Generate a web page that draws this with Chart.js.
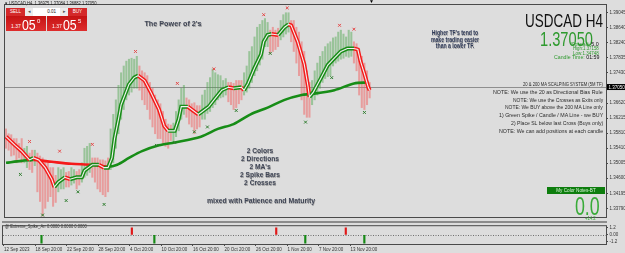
<!DOCTYPE html>
<html>
<head>
<meta charset="utf-8">
<title>USDCAD H4</title>
<script src="https://cdn.jsdelivr.net/npm/chart.js@4.4.1/dist/chart.umd.min.js"></script>
<style>
  html, body { margin: 0; padding: 0; background: #dddddd; }
  #wrap { position: relative; width: 625px; height: 253px; overflow: hidden; background: #dddddd;
          font-family: "Liberation Sans", Arial, sans-serif; }
  canvas { position: absolute; left: 0; }
  #main { top: 0; }
  #sub { top: 222px; }
  #sep { position: absolute; left: 2px; top: 221px; width: 605px; height: 2px; background: #8c8c8c; }
  .t { position: absolute; white-space: nowrap; line-height: 1; }
  .lft { transform-origin: left center; }
  .rgt { transform-origin: right center; text-align: right; }
  .mid { text-align: center; }
  .slogan { color: #3f4555; font-weight: bold; text-shadow: 0.6px 0.6px 0 rgba(0,0,0,0.3); }
  .note { color: #2b2b2b; font-size: 5.5px; }
  .box { position: absolute; height: 8px; top: 8px; font-size: 4.5px; line-height: 8px; text-align: center; }
  .red { background: #d42a2a; color: #fff; }
  .quote { position: absolute; top: 16px; width: 40px; height: 15px; background: linear-gradient(#c51313, #de2d2d); color: #fff; }
  .quote span { position: absolute; line-height: 1; white-space: nowrap; }
  .grn { color: #2e9a2e; }
  .blk { color: #111; }
</style>
</head>
<body>
<div id="wrap">
  <canvas id="main" width="625" height="222"></canvas>
  <canvas id="sub" width="625" height="31"></canvas>
  <div id="sep"></div>

  <!-- chart header -->
  <div class="t lft" data-w="92" style="left:5px;top:2px;font-size:4.5px;color:#222;">▾ USDCAD,H4&nbsp; 1.36975 1.37084 1.36882 1.37050</div>
  <div class="t" style="left:369px;top:-1px;font-size:5px;color:#000;">▼</div>

  <!-- one click trading panel -->
  <div class="box red" style="left:6px;width:19px;">SELL</div>
  <div class="box" style="left:25px;width:8px;background:#ececec;color:#555;">◂</div>
  <div class="box" style="left:33px;width:27px;background:#fff;color:#222;text-align:right;"><span style="padding-right:4px;">0.01</span></div>
  <div class="box" style="left:60px;width:8px;background:#ececec;color:#555;">▸</div>
  <div class="box red" style="left:68px;width:19px;">BUY</div>
  <div class="quote" style="left:6px;">
    <span style="left:5px;top:8px;font-size:5px;">1.37</span>
    <span class="t lft" data-w="14" style="left:16px;top:1px;font-size:15px;">05</span>
    <span style="left:31px;top:1.5px;font-size:6px;">0</span>
  </div>
  <div class="quote" style="left:47px;">
    <span style="left:5px;top:8px;font-size:5px;">1.37</span>
    <span class="t lft" data-w="14" style="left:16px;top:1px;font-size:15px;">05</span>
    <span style="left:31px;top:1.5px;font-size:6px;">5</span>
  </div>

  <!-- slogans -->
  <div class="t mid slogan" data-w="57" data-c="173" style="top:20px;font-size:8px;">The Power of 2's</div>
  <div class="t mid slogan" data-w="48" data-c="455" style="top:30px;font-size:6.5px;line-height:6.5px;color:#2f3a58;">Higher TF's tend to<br>make trading easier<br>than a lower TF.</div>
  <div class="t mid slogan" data-w="40" data-c="260" style="top:147px;font-size:8px;line-height:8px;">2 Colors<br>2 Directions<br>2 MA's<br>2 Spike Bars<br>2 Crosses</div>
  <div class="t mid slogan" data-w="108" data-c="261" style="top:197px;font-size:8px;">mixed with Patience and Maturity</div>

  <!-- symbol info -->
  <div class="t rgt" data-w="78" style="right:22px;top:12px;font-size:18.5px;color:#111;">USDCAD H4</div>
  <div class="t rgt grn" data-w="53" style="right:32px;top:28px;font-size:21px;color:#2e9a2e;">1.37050</div>
  <div class="t rgt" data-w="28" style="right:26px;top:41.5px;font-size:5px;"><span class="grn">Spread: </span><span class="blk">5.0</span></div>
  <div class="t rgt grn" data-w="26" style="right:26px;top:46px;font-size:5px;">High:1.37158</div>
  <div class="t rgt grn" data-w="26" style="right:26px;top:50.5px;font-size:5px;">Low:1.34748</div>
  <div class="t rgt" data-w="45" style="right:26px;top:55px;font-size:5px;"><span class="grn">Candle Time: </span><span class="blk">01:59</span></div>

  <!-- system notes -->
  <div class="t rgt note" data-w="80" style="right:22px;top:82px;">20 &amp; 200 MA SCALPING SYSTEM (5M TF)</div>
  <div class="t rgt note" data-w="110" style="right:22px;top:90px;">NOTE: We use the 20 as Directional Bias Rule</div>
  <div class="t rgt note" data-w="90" style="right:22px;top:98px;">NOTE: We use the Crosses as Exits only</div>
  <div class="t rgt note" data-w="98" style="right:22px;top:105px;">NOTE: We BUY above the 200 MA Line only</div>
  <div class="t rgt note" data-w="104" style="right:22px;top:113px;">1) Green Spike / Candle / MA Line - we BUY</div>
  <div class="t rgt note" data-w="92" style="right:22px;top:121px;">2) Place SL below last Cross (Buys only)</div>
  <div class="t rgt note" data-w="104" style="right:22px;top:129px;">NOTE: We can add positions at each candle</div>

  <div style="position:absolute;left:547px;top:187px;width:58px;height:6.5px;background:#0d7d0d;"></div>
  <div class="t mid" data-w="40" data-c="576" style="top:188px;font-size:5px;color:#d8f5d8;">My Color Notes-BT</div>
  <div class="t rgt" data-w="25" style="right:25px;top:194px;font-size:25px;color:#38ab38;">0.0</div>
  <div class="t lft" data-w="11" style="left:585px;top:216px;font-size:5px;color:#38ab38;">+14.2</div>

  <!-- indicator window title -->
  <div class="t lft" data-w="82" style="left:5px;top:224.5px;font-size:4.5px;color:#333;">@ Extreme_Spike_Arr 0.0000 0.0000 0.0000</div>
</div>

<script>
// ── Data: x is the H4 candle number counted from 12 Sep 2023 ──
const dateTicks = [0, 24, 48, 72, 96, 120, 144, 168, 192, 216, 240, 264];
const dateLabels = [
  "12 Sep 2023", "18 Sep 20:00", "22 Sep 20:00", "28 Sep 20:00",
  "4 Oct 20:00", "10 Oct 20:00", "16 Oct 20:00", "20 Oct 20:00",
  "26 Oct 20:00", "1 Nov 20:00", "7 Nov 20:00", "13 Nov 20:00",
];
const priceTicks = [
  1.39045, 1.3864, 1.3824, 1.37835, 1.3743, 1.3662, 1.36215,
  1.3581, 1.3541, 1.35005, 1.346, 1.34195, 1.3379,
];
const lastClose = 1.3705;

// spike bars (high / low wicks) every second candle, direction +1 green, -1 red
const spikeBars = [
  0, 2, 4, 6, 8, 10, 12, 14, 16, 18, 20, 22, 24, 26, 28, 30, 32, 34, 36, 38,
  40, 42, 44, 46, 48, 50, 52, 54, 56, 58, 60, 62, 64, 66, 68, 70, 72, 74, 76, 78,
  80, 82, 84, 86, 88, 90, 92, 94, 96, 98, 100, 102, 104, 106, 108, 110, 112, 114, 116, 118,
  120, 122, 124, 126, 128, 130, 132, 134, 136, 138, 140, 142, 144, 146, 148, 150, 152, 154, 156, 158,
  160, 162, 164, 166, 168, 170, 172, 174, 176, 178, 180, 182, 184, 186, 188, 190, 192, 194, 196, 198,
  200, 202, 204, 206, 208, 210, 212, 214, 216, 218, 220, 222, 224, 226, 228, 230, 232, 234, 236, 238,
  240, 242, 244, 246, 248, 250, 252, 254, 256, 258, 260, 262, 264, 266, 268, 270, 272, 274, 276, 278,
];
const spikeHigh = [
  1.35925, 1.35795, 1.35769, 1.35665, 1.35665, 1.35535, 1.35665, 1.35405, 1.35457, 1.35275,
  1.35353, 1.35353, 1.35275, 1.35197, 1.35145, 1.35067, 1.35015, 1.34885, 1.34885, 1.34677,
  1.34885, 1.34833, 1.34885, 1.34755, 1.34781, 1.34885, 1.34833, 1.34781, 1.34833, 1.35015,
  1.35405, 1.35457, 1.35535, 1.35145, 1.35145, 1.35145, 1.35093, 1.35093, 1.35067, 1.35145,
  1.35925, 1.36315, 1.36705, 1.37095, 1.37433, 1.37615, 1.37745, 1.37797, 1.37823, 1.37797,
  1.37875, 1.37615, 1.37485, 1.37433, 1.37355, 1.37173, 1.37017, 1.36835, 1.36705, 1.36601,
  1.36393, 1.36185, 1.36055, 1.36029, 1.36081, 1.36393, 1.36705, 1.37017, 1.37095, 1.36757,
  1.36705, 1.36601, 1.36627, 1.36549, 1.36549, 1.36835, 1.36965, 1.37173, 1.37303, 1.37537,
  1.37433, 1.37381, 1.37355, 1.37225, 1.37277, 1.37173, 1.37173, 1.37147, 1.37225, 1.37225,
  1.37225, 1.37433, 1.37615, 1.38005, 1.38135, 1.38395, 1.38655, 1.38733, 1.38837, 1.38889,
  1.38785, 1.38577, 1.38655, 1.38577, 1.38629, 1.38837, 1.38993, 1.39045, 1.39045, 1.38837,
  1.38837, 1.38655, 1.38525, 1.38265, 1.38005, 1.37485, 1.37173, 1.37225, 1.37485, 1.37693,
  1.37875, 1.38005, 1.38135, 1.38213, 1.38265, 1.38369, 1.38395, 1.38525, 1.38577, 1.38473,
  1.38395, 1.38577, 1.38525, 1.38265, 1.38213, 1.38057, 1.37875, 1.37693, 1.37485, 1.37173,
];
const spikeLow = [
  1.35405, 1.35353, 1.35197, 1.35223, 1.35015, 1.35145, 1.35015, 1.35015, 1.34885, 1.34833,
  1.34755, 1.34937, 1.34235, 1.33975, 1.33585, 1.33793, 1.33975, 1.34105, 1.33845, 1.33949,
  1.34235, 1.34313, 1.34313, 1.34365, 1.34365, 1.34417, 1.34469, 1.34313, 1.34417, 1.34495,
  1.34625, 1.34677, 1.34755, 1.34625, 1.34495, 1.34313, 1.34235, 1.34157, 1.34105, 1.34235,
  1.34833, 1.35015, 1.35405, 1.35795, 1.36185, 1.36445, 1.36705, 1.36835, 1.36913, 1.37017,
  1.37017, 1.36965, 1.36705, 1.36575, 1.36445, 1.36185, 1.35977, 1.35795, 1.35665, 1.35665,
  1.35535, 1.35457, 1.35405, 1.35613, 1.35535, 1.35717, 1.35873, 1.36185, 1.36315, 1.36237,
  1.36055, 1.35977, 1.35795, 1.35925, 1.35977, 1.36185, 1.36185, 1.36341, 1.36393, 1.36497,
  1.36575, 1.36705, 1.36757, 1.36783, 1.36835, 1.36653, 1.36575, 1.36445, 1.36497, 1.36601,
  1.36705, 1.36835, 1.36913, 1.37017, 1.37173, 1.37355, 1.37485, 1.37641, 1.37797, 1.38135,
  1.38135, 1.37953, 1.38005, 1.38057, 1.38135, 1.38317, 1.38395, 1.38473, 1.38525, 1.38265,
  1.38005, 1.37693, 1.37355, 1.36705, 1.36315, 1.36237, 1.36237, 1.36575, 1.36705, 1.36835,
  1.37017, 1.37173, 1.37277, 1.37329, 1.37355, 1.37615, 1.37693, 1.37745, 1.37797, 1.37823,
  1.37875, 1.37849, 1.37875, 1.37693, 1.37485, 1.36835, 1.36497, 1.36445, 1.36575, 1.36757,
];
const spikeDir = [
  -1, -1, -1, -1, -1, -1, -1, 1, 1, -1, -1, 1, -1, -1, -1, -1, -1, -1, -1, -1,
  1, 1, 1, -1, -1, 1, 1, -1, -1, 1, 1, 1, 1, -1, -1, -1, -1, -1, -1, -1,
  1, 1, 1, 1, 1, 1, 1, 1, 1, 1, 1, -1, -1, -1, -1, -1, -1, -1, -1, -1,
  -1, -1, -1, -1, 1, 1, 1, 1, 1, -1, -1, -1, -1, -1, -1, 1, 1, 1, 1, 1,
  1, 1, 1, 1, 1, -1, -1, -1, -1, -1, -1, 1, 1, 1, 1, 1, 1, 1, 1, 1,
  1, -1, -1, -1, -1, 1, 1, 1, 1, -1, -1, -1, -1, -1, -1, -1, -1, 1, 1, 1,
  1, 1, 1, 1, 1, 1, 1, 1, 1, 1, 1, 1, 1, -1, -1, -1, -1, -1, -1, -1,
];

// 20 period MA
const ma20Bars = [
  0, 7, 12, 18, 21, 25, 30, 35, 37, 40, 45, 49, 54, 58, 60, 66, 71, 75, 78, 81,
  83, 86, 88, 94, 98, 101, 106, 111, 117, 121, 124, 129, 132, 134, 139, 142, 147, 149, 155, 159,
  165, 170, 174, 180, 182, 185, 190, 195, 197, 200, 203, 208, 213, 216, 218, 223, 228, 231, 232, 235,
  241, 246, 251, 256, 261, 266, 269, 271, 274, 277, 278,
];
const ma20 = [
  1.35717, 1.35483, 1.35327, 1.35093, 1.35145, 1.35093, 1.34885, 1.34573, 1.34365, 1.34495,
  1.34625, 1.34573, 1.34625, 1.34625, 1.34807, 1.34963, 1.34963, 1.34885, 1.34885, 1.35145,
  1.35665, 1.36185, 1.36575, 1.37121, 1.37303, 1.37355, 1.37225, 1.36887, 1.36445, 1.36003,
  1.35873, 1.35873, 1.36185, 1.36523, 1.36523, 1.36445, 1.36315, 1.36367, 1.36523, 1.36705,
  1.36965, 1.37043, 1.37017, 1.37043, 1.36965, 1.37147, 1.37563, 1.37927, 1.38265, 1.38447,
  1.38473, 1.38447, 1.38655, 1.38733, 1.38707, 1.38265, 1.37667, 1.37043, 1.36783, 1.36913,
  1.37303, 1.37641, 1.37823, 1.38005, 1.38083, 1.38083, 1.38057, 1.37745, 1.37407, 1.37043,
  1.36965,
];

// 200 period MA
const ma200Bars = [0, 12, 21, 35, 50, 66, 78, 85, 94, 104, 117, 129, 149, 162, 174, 187, 200, 213, 226, 233, 251, 266, 277];
const ma200 = [
  1.35015, 1.35067, 1.35093, 1.35041, 1.34989, 1.34963, 1.34911, 1.34963, 1.35145, 1.35327,
  1.35483, 1.35561, 1.35717, 1.35925, 1.36055, 1.36315, 1.36497, 1.36705, 1.36835, 1.36861,
  1.36965, 1.37147, 1.37173,
];

// exit crosses
const topCrossBars = [18, 41, 66, 99, 131, 159, 197, 215, 255, 266];
const topCross = [1.35587, 1.35327, 1.35509, 1.38005, 1.37147, 1.37537, 1.38993, 1.39175, 1.38707, 1.38603];
const lowCrossBars = [11, 28, 46, 55, 75, 115, 129, 144, 154, 176, 202, 229, 249, 274];
const lowCross = [
  1.34703, 1.33611, 1.34001, 1.34235, 1.33897, 1.35483, 1.35561, 1.35847, 1.35977, 1.36419,
  1.37953, 1.36107, 1.37303, 1.36367,
];

// Extreme_Spike_Arr sub window
const sellSignalBars = [98, 208, 261];
const buySignalBars = [28, 114, 229, 274];
const sellLevel = 1.2;
const buyLevel = -1.45;
const subTicks = [1.2, 0, -1.2];

// ── Style ──
const GREEN = "#178d17";
const RED = "#f51a1a";
const SPIKE_UP = "rgba(70,165,70,0.45)";
const SPIKE_DOWN = "rgba(245,80,80,0.45)";
const AXIS = "#4a4a4a";
const X_MIN = -0.76;
const X_MAX = 458.7;

function points(xs, ys) {
  return xs.map((x, i) => ({ x: x, y: ys[i] }));
}

function trendSegment() {
  return {
    borderColor: (ctx) => (ctx.p1.parsed.y >= ctx.p0.parsed.y ? GREEN : RED),
  };
}

const tickFont = { family: "Liberation Sans", size: 4.5 };

// ── Plugins ──
const mainDecor = {
  id: "mainDecor",
  beforeDatasetsDraw(chart) {
    const { ctx, chartArea: a, scales } = chart;
    const y = Math.round(scales.y.getPixelForValue(lastClose)) + 0.5;
    ctx.save();
    ctx.strokeStyle = "#8e8e8e";
    ctx.lineWidth = 1;
    ctx.beginPath();
    ctx.moveTo(a.left, y);
    ctx.lineTo(a.right, y);
    ctx.stroke();
    ctx.restore();
  },
  afterDraw(chart) {
    const { ctx, chartArea: a, scales } = chart;
    ctx.save();
    ctx.strokeStyle = AXIS;
    ctx.lineWidth = 1;
    ctx.strokeRect(a.left - 0.5, a.top - 0.5, a.right - a.left + 1, a.bottom - a.top + 1);
    // current price tag
    const y = scales.y.getPixelForValue(lastClose);
    ctx.fillStyle = "#000";
    ctx.fillRect(a.right + 1, y - 3, 625 - a.right - 1, 6);
    ctx.fillStyle = "#fff";
    ctx.font = "4.5px 'Liberation Sans'";
    ctx.textBaseline = "middle";
    ctx.fillText(lastClose.toFixed(5), a.right + 2.5, y + 0.3);
    ctx.restore();
  },
};

const subDecor = {
  id: "subDecor",
  beforeDatasetsDraw(chart) {
    const { ctx, chartArea: a, scales } = chart;
    const y = Math.round(scales.y.getPixelForValue(0)) + 0.5;
    ctx.save();
    ctx.strokeStyle = "#707070";
    ctx.setLineDash([1, 1.5]);
    ctx.beginPath();
    ctx.moveTo(a.left, y);
    ctx.lineTo(a.right, y);
    ctx.stroke();
    ctx.restore();
  },
  afterDraw(chart) {
    const { ctx, chartArea: a } = chart;
    ctx.save();
    ctx.strokeStyle = AXIS;
    ctx.strokeRect(a.left - 0.5, a.top - 0.5, a.right - a.left + 1, a.bottom - a.top + 1);
    ctx.restore();
  },
};

// ── Main price window ──
new Chart(document.getElementById("main"), {
  type: "bar",
  data: {
    datasets: [
      {
        type: "line",
        label: "Exit high",
        data: points(topCrossBars, topCross),
        showLine: false,
        pointStyle: "crossRot",
        pointRadius: 2,
        borderColor: "#e44848",
        borderWidth: 1,
        order: 0,
      },
      {
        type: "line",
        label: "Exit low",
        data: points(lowCrossBars, lowCross),
        showLine: false,
        pointStyle: "crossRot",
        pointRadius: 2,
        borderColor: "#2f7d2f",
        borderWidth: 1,
        order: 0,
      },
      {
        type: "line",
        label: "MA 20 core",
        data: points(ma20Bars, ma20),
        borderColor: "#f2f2f2",
        borderWidth: 1.1,
        pointRadius: 0,
        tension: 0,
        order: 1,
      },
      {
        type: "line",
        label: "MA 20",
        data: points(ma20Bars, ma20),
        borderWidth: 4,
        segment: trendSegment(),
        borderColor: GREEN,
        pointRadius: 0,
        tension: 0,
        order: 2,
      },
      {
        type: "line",
        label: "MA 200",
        data: points(ma200Bars, ma200),
        borderWidth: 2.6,
        segment: trendSegment(),
        borderColor: GREEN,
        pointRadius: 0,
        tension: 0.3,
        order: 3,
      },
      {
        type: "bar",
        label: "Spikes",
        data: spikeBars.map((b, i) => ({ x: b, y: [spikeLow[i], spikeHigh[i]] })),
        backgroundColor: spikeDir.map((d) => (d > 0 ? SPIKE_UP : SPIKE_DOWN)),
        barThickness: 1.4,
        order: 4,
      },
    ],
  },
  options: {
    responsive: false,
    animation: false,
    events: [],
    layout: { padding: { left: 3, top: 2, right: 0, bottom: 1 } },
    plugins: { legend: { display: false }, tooltip: { enabled: false } },
    scales: {
      x: { type: "linear", display: false, min: X_MIN, max: X_MAX, offset: false },
      y: {
        type: "linear",
        position: "right",
        min: 1.33559,
        max: 1.39253,
        afterBuildTicks: (scale) => {
          scale.ticks = priceTicks.map((v) => ({ value: v }));
        },
        afterFit: (scale) => {
          scale.width = 19;
        },
        ticks: {
          autoSkip: false,
          padding: 1.5,
          color: "#333",
          font: tickFont,
          callback: (v) => v.toFixed(5),
        },
        grid: { drawOnChartArea: false, tickLength: 2, color: AXIS },
        border: { color: AXIS },
      },
    },
  },
  plugins: [mainDecor],
});

// ── Indicator window ──
new Chart(document.getElementById("sub"), {
  type: "bar",
  data: {
    datasets: [
      {
        label: "Spike down",
        data: sellSignalBars.map((b) => ({ x: b, y: [0, sellLevel] })),
        backgroundColor: "#e01818",
        barThickness: 1.5,
      },
      {
        label: "Spike up",
        data: buySignalBars.map((b) => ({ x: b, y: [buyLevel, 0] })),
        backgroundColor: "#168a16",
        barThickness: 1.5,
      },
    ],
  },
  options: {
    responsive: false,
    animation: false,
    events: [],
    layout: { padding: { left: 3, top: 1, right: 0, bottom: 0 } },
    plugins: { legend: { display: false }, tooltip: { enabled: false } },
    scales: {
      x: {
        type: "linear",
        min: X_MIN,
        max: X_MAX,
        offset: false,
        afterBuildTicks: (scale) => {
          scale.ticks = dateTicks.map((v) => ({ value: v }));
        },
        afterFit: (scale) => {
          scale.height = 9;
        },
        ticks: {
          autoSkip: false,
          maxRotation: 0,
          align: "start",
          padding: 1,
          color: "#333",
          font: tickFont,
          callback: (v, i) => dateLabels[i],
        },
        grid: { drawOnChartArea: false, offset: false, tickLength: 2, color: AXIS },
        border: { color: AXIS },
      },
      y: {
        type: "linear",
        position: "right",
        min: -1.6,
        max: 1.5,
        afterBuildTicks: (scale) => {
          scale.ticks = subTicks.map((v) => ({ value: v }));
        },
        afterFit: (scale) => {
          scale.width = 19;
        },
        ticks: {
          autoSkip: false,
          padding: 1.5,
          color: "#333",
          font: tickFont,
          callback: (v) => (v === 0 ? "0.00" : v.toFixed(1)),
        },
        grid: { drawOnChartArea: false, tickLength: 2, color: AXIS },
        border: { color: AXIS },
      },
    },
  },
  plugins: [subDecor],
});

// ── Squeeze overlay texts to the widths seen in the screenshot ──
document.querySelectorAll(".t[data-w]").forEach((el) => {
  const s = (+el.dataset.w / el.offsetWidth).toFixed(3);
  if (el.dataset.c) {
    el.style.left = el.dataset.c + "px";
    el.style.transform = "translateX(-50%) scaleX(" + s + ")";
  } else {
    el.style.transform = "scaleX(" + s + ")";
  }
});
</script>
</body>
</html>
